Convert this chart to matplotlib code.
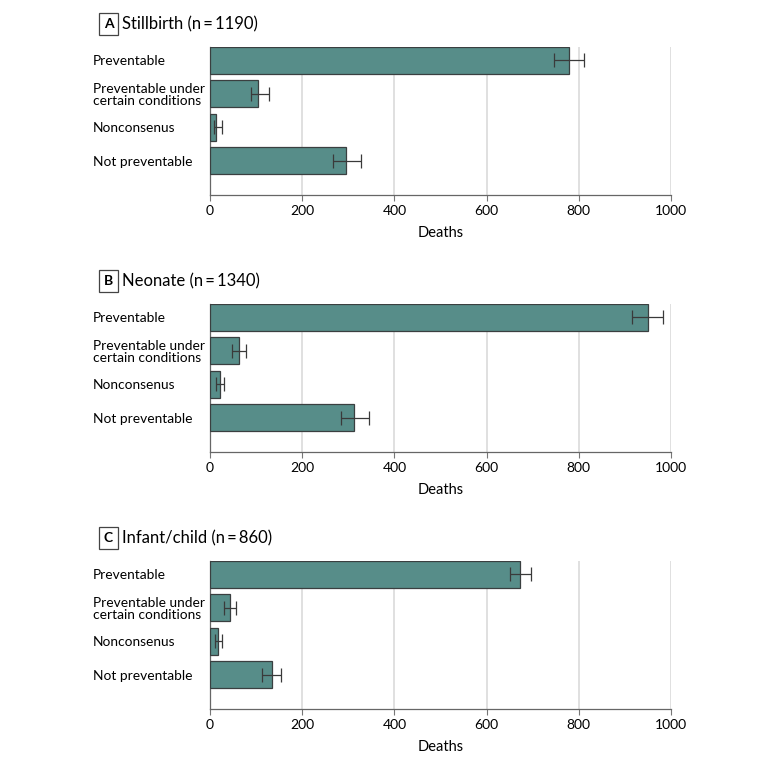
import matplotlib.pyplot as plt

plt.rcParams['font.family'] = ['Lato', 'DejaVu Sans']

categories = ['Preventable', 'Preventable under\ncertain conditions',
              'Nonconsenus', 'Not preventable']

# panel letter, title, values, lower and upper CI
letters = ['A', 'B', 'C']
titles = ['Stillbirth (n\u2009=\u20091190)', 'Neonate (n\u2009=\u20091340)',
          'Infant/child (n\u2009=\u2009860)']
stillbirth = [779, 105, 14, 296]
stillbirth_lo = [746, 88, 9, 267]
stillbirth_hi = [811, 127, 25, 327]
neonate = [951, 62, 21, 312]
neonate_lo = [916, 48, 14, 284]
neonate_hi = [982, 79, 31, 344]
infant = [673, 43, 17, 134]
infant_lo = [650, 31, 10, 113]
infant_hi = [696, 57, 27, 155]

values = [stillbirth, neonate, infant]
lows = [stillbirth_lo, neonate_lo, infant_lo]
highs = [stillbirth_hi, neonate_hi, infant_hi]
xticks = [0, 200, 400, 600, 800, 1000]

W, H = 780, 764
fig = plt.figure(figsize=(W / 100, H / 100), dpi=100)

tops = [47, 304, 561]
bottom_gap = 148
left, right = 210, 671
bar_color = '#578d89'
edge = '#3a3f40'

for k in range(3):
    top = tops[k]
    ax = fig.add_axes([left / W, 1 - (top + bottom_gap) / H,
                       (right - left) / W, bottom_gap / H])
    vals = values[k]
    y = list(range(len(categories)))
    err = [[v - lo for v, lo in zip(vals, lows[k])],
           [hi - v for v, hi in zip(vals, highs[k])]]
    ax.barh(y, vals, height=0.8, color=bar_color, edgecolor=edge,
            linewidth=0.9, zorder=3)
    ax.errorbar(vals, y, xerr=err, fmt='none', ecolor='#3a3a3a',
                elinewidth=0.9, capsize=5, capthick=0.9, zorder=4)
    ax.set_ylim(4.03, -0.4)
    ax.set_xlim(0, 1000)
    ax.set_xticks(xticks)
    ax.set_yticks(y)
    ax.set_yticklabels(categories, fontsize=9.9, ha='left', linespacing=1.05)
    ax.tick_params(axis='y', length=0, pad=84.5)
    ax.tick_params(axis='x', length=4, width=0.8, color='#777777',
                   labelsize=10, pad=3)
    ax.grid(axis='x', color='#e0e0e0', linewidth=1.4, zorder=0)
    for s in ['top', 'right']:
        ax.spines[s].set_visible(False)
    for s in ['left', 'bottom']:
        ax.spines[s].set_color('#666666')
        ax.spines[s].set_linewidth(0.9)
    ax.set_xlabel('Deaths', fontsize=10.5, labelpad=7)

    # panel heading
    ty = 1 - (top - 23) / H
    fig.text(108.5 / W, ty, letters[k], fontsize=10, fontweight='bold',
             ha='center', va='center',
             bbox=dict(boxstyle='square,pad=0.35', facecolor='white',
                       edgecolor='#444444', linewidth=0.9))
    fig.text(122 / W, ty, titles[k], fontsize=12, ha='left', va='center')

fig.savefig('out.png', dpi=100)
